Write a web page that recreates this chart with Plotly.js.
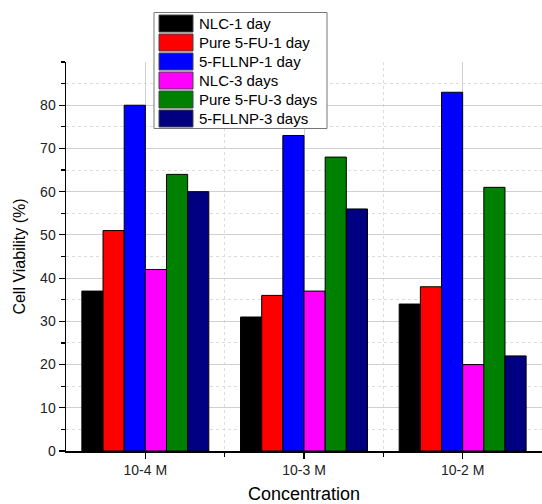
<!DOCTYPE html>
<html>
<head>
<meta charset="utf-8">
<script src="https://cdn.plot.ly/plotly-3.0.1.min.js"></script>
<style>html,body{margin:0;padding:0;background:#fff;}#chart{width:542px;height:504px;}</style>
</head>
<body>
<div id="chart"></div>
<script>
// Data
const categories = ["10-4 M", "10-3 M", "10-2 M"];
const seriesNames = ["NLC-1 day", "Pure 5-FU-1 day", "5-FLLNP-1 day", "NLC-3 days", "Pure 5-FU-3 days", "5-FLLNP-3 days"];
const seriesColors = ["#000000", "#FF0000", "#0000FF", "#FF00FF", "#008000", "#000080"];
const nlc1 = [37, 31, 34];
const pure1 = [51, 36, 38];
const fllnp1 = [80, 73, 83];
const nlc3 = [42, 37, 20];
const pure3 = [64, 68, 61];
const fllnp3 = [60, 56, 22];
const seriesValues = [nlc1, pure1, fllnp1, nlc3, pure3, fllnp3];
const yTicks = [0, 10, 20, 30, 40, 50, 60, 70, 80];

const FONT = "Arial, 'Liberation Sans', sans-serif";
const xIdx = categories.map((c, i) => i);

const traces = seriesNames.map((name, k) => ({
  type: 'bar',
  name: name,
  x: xIdx,
  y: seriesValues[k],
  marker: {color: seriesColors[k], line: {color: '#000', width: 1}},
  showlegend: false,
  hoverinfo: 'y'
}));

// plot box in pixels
const L = 66, R = 542, T = 62, B = 451;
const px = v => (v - L) / (R - L);
const py = v => (B - v) / (B - T);

const shapes = [];
const annotations = [];
// manual legend
const lgLeft = 154, lgTop = 12.5, lgRight = 327, lgBottom = 128.5;
shapes.push({type: 'rect', xref: 'paper', yref: 'paper', layer: 'above',
  x0: px(lgLeft), x1: px(lgRight), y0: py(lgBottom), y1: py(lgTop),
  fillcolor: '#fff', line: {color: '#777', width: 1}});
seriesNames.forEach((name, k) => {
  const top = 15 + k * 19;
  shapes.push({type: 'rect', xref: 'paper', yref: 'paper', layer: 'above',
    x0: px(159), x1: px(193), y0: py(top + 17), y1: py(top),
    fillcolor: seriesColors[k], line: {color: '#444', width: 1}});
  annotations.push({xref: 'paper', yref: 'paper', x: px(197), y: py(top + 8.5),
    xanchor: 'left', yanchor: 'middle', showarrow: false, text: name,
    font: {family: FONT, size: 15, color: '#000'}});
});

const layout = {
  width: 542, height: 504,
  margin: {l: L, r: 542 - R, t: T, b: 504 - B, pad: 0},
  paper_bgcolor: '#fff', plot_bgcolor: '#fff',
  barmode: 'group', bargap: 0.2, bargroupgap: 0,
  font: {family: FONT, color: '#222'},
  xaxis: {
    range: [-0.5, 2.5], tickmode: 'array', tickvals: xIdx, ticktext: categories,
    showline: true, linecolor: '#000', linewidth: 1.5,
    ticks: 'outside', ticklen: 6, tickcolor: '#000', tickwidth: 1.2,
    showgrid: true, gridcolor: '#d0d0d0', gridwidth: 1,
    minor: {tickmode: 'array', tickvals: [0.5, 1.5], ticks: 'outside', ticklen: 4, tickcolor: '#000',
      showgrid: true, gridcolor: '#dcdcdc', griddash: 'dot', gridwidth: 1},
    tickfont: {family: FONT, size: 14, color: '#222'},
    title: {text: 'Concentration', font: {family: FONT, size: 18, color: '#000'}, standoff: 13},
    zeroline: false, fixedrange: true
  },
  yaxis: {
    range: [0, 90], tickmode: 'array', tickvals: yTicks,
    showline: true, linecolor: '#000', linewidth: 1.5,
    ticks: 'outside', ticklen: 6, tickcolor: '#000', tickwidth: 1.2,
    showgrid: true, gridcolor: '#d0d0d0', gridwidth: 1,
    minor: {dtick: 5, tick0: 5, ticks: 'outside', ticklen: 4, tickcolor: '#000',
      showgrid: true, gridcolor: '#dcdcdc', griddash: 'dot', gridwidth: 1},
    tickfont: {family: FONT, size: 14, color: '#222'},
    title: {text: 'Cell Viability (%)', font: {family: FONT, size: 16, color: '#000'}, standoff: 10},
    zeroline: false, fixedrange: true
  },
  shapes: shapes,
  annotations: annotations,
  showlegend: false
};

Plotly.newPlot('chart', traces, layout, {displayModeBar: false, staticPlot: true});
</script>
</body>
</html>
